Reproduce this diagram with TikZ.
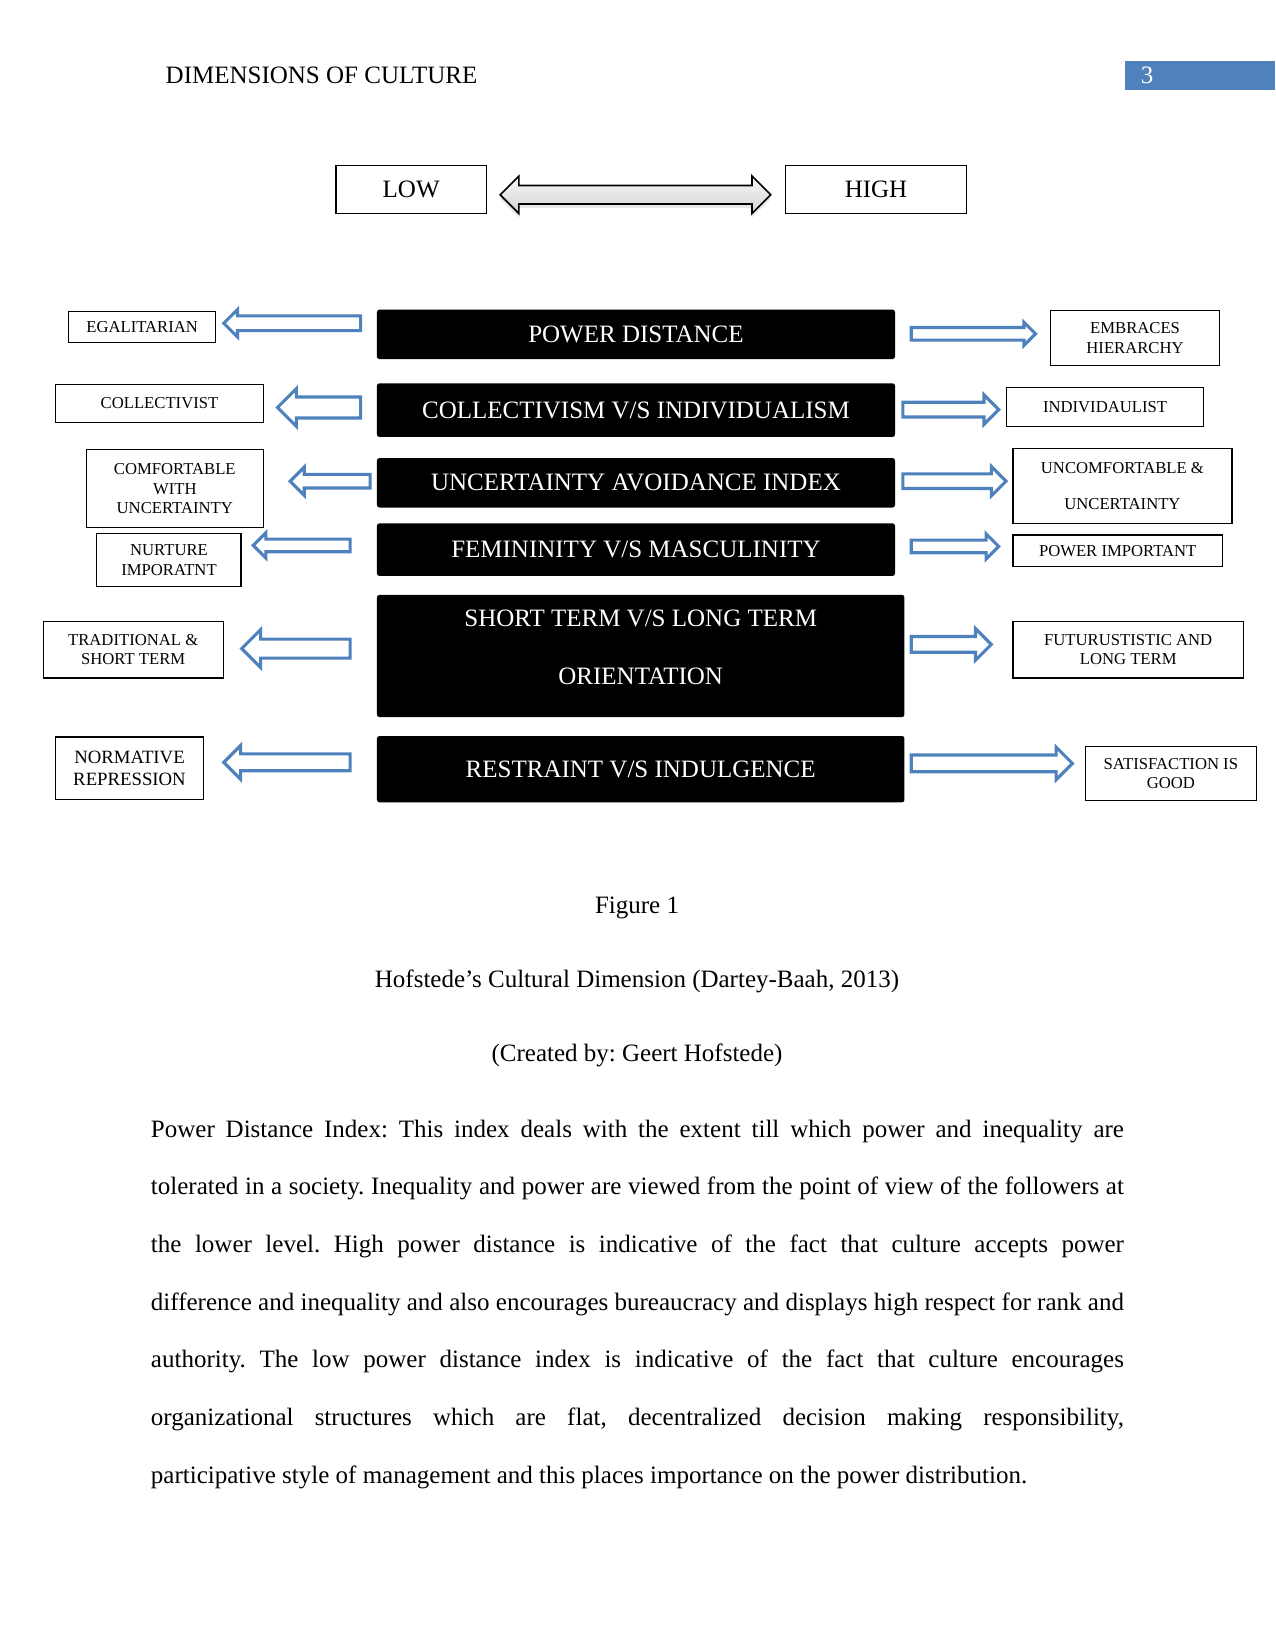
\documentclass[tikz,border=0pt]{standalone}
\usepackage{fontspec}
\setmainfont{Liberation Serif}
\usepackage{xcolor}
\usetikzlibrary{positioning, shapes.arrows, shadows}

\definecolor{hdrblue}{HTML}{4F81BD}
\definecolor{arrblue}{HTML}{4F81BD}
\newcommand{\pxu}{0.5054pt}

\tikzset{
  dimbox/.style={fill=black, text=white, rounded corners=1.2pt, inner sep=0pt,
    font=\fontsize{12}{27.7}\selectfont, align=center},
  sidebox/.style={draw=black, line width=0.6pt, inner sep=0pt,
    font=\fontsize{8}{9.2}\selectfont, align=center},
  sz/.style 2 args={minimum width=#1*\pxu, minimum height=#2*\pxu},
  blockarr/.style 2 args={single arrow, draw=arrblue, line width=1.5pt, fill=white,
    inner xsep=0pt, inner ysep=(#2-3)/2*\pxu, minimum width=0pt,
    single arrow head extend=(#1-#2)/2*\pxu, single arrow head indent=0pt},
}

\begin{document}
\frenchspacing
\begin{tikzpicture}[x=\pxu, y=-\pxu]
  \useasboundingbox (0,0) rectangle (1211,1568);

  % header
  \node[anchor=base west, inner sep=0pt, font=\fontsize{12}{14}\selectfont] (title) at (157,79) {DIMENSIONS OF CULTURE};
  \fill[hdrblue] (1068,58) rectangle (1211,85);
  \node[anchor=base west, inner sep=0pt, text=white, font=\fontsize{12}{14}\selectfont] (pagenum) at (1083,79) {3};

  % low / high
  \node[sidebox, sz={143}{46}, font=\fontsize{12}{14}\selectfont] (low) at (390.5,180) {LOW};
  \node[sidebox, sz={172}{46}, font=\fontsize{12}{14}\selectfont] (high) at (832,180) {HIGH};
  \node[double arrow, draw=black, line width=0.8pt, top color=gray!6, bottom color=gray!35,
    drop shadow={opacity=0.2, shadow xshift=0pt, shadow yshift=-2pt},
    inner xsep=0pt, inner ysep=8*\pxu, minimum height=257*\pxu,
    double arrow head extend=9*\pxu, double arrow head indent=0pt] (range) at (603.5,185) {};

  % dimensions
  \node[dimbox, sz={492}{47}] (pd) at (604,317.5) {POWER DISTANCE};
  \node[dimbox, sz={492}{51}] (cvi) at (604,389.5) {COLLECTIVISM V/S INDIVIDUALISM};
  \node[dimbox, sz={492}{47}] (uai) at (604,458.5) {UNCERTAINTY AVOIDANCE INDEX};
  \node[dimbox, sz={492}{50}] (fvm) at (604,522) {FEMININITY V/S MASCULINITY};
  \node[dimbox, sz={501}{116}] (ltlo) at (608.5,623) {};
  \node[dimbox, fill=none] (ltlotext) at (608.5,614.5) {SHORT TERM V/S LONG TERM\\ORIENTATION};
  \node[dimbox, sz={501}{63}] (rvi) at (608.5,730.5) {RESTRAINT V/S INDULGENCE};

  % low side
  \node[sidebox, sz={140}{29}] (egal) at (135,310.5) {EGALITARIAN};
  \node[sidebox, sz={197}{36}] (coll) at (151.5,383) {COLLECTIVIST};
  \node[sidebox, sz={168}{74}] (comf) at (166,464) {COMFORTABLE\\WITH\\UNCERTAINTY};
  \node[sidebox, sz={137}{50}] (nurt) at (160.5,532) {NURTURE\\IMPORATNT};
  \node[sidebox, sz={171}{54}] (trad) at (126.5,617) {TRADITIONAL \&\\SHORT TERM};
  \node[sidebox, sz={140}{59}, font=\fontsize{9}{10.6}\selectfont] (norm) at (123,729.5) {NORMATIVE\\REPRESSION};

  % high side
  \node[sidebox, sz={160}{52}] (embr) at (1078,321) {EMBRACES\\HIERARCHY};
  \node[sidebox, sz={187}{37}] (indiv) at (1049.5,386.5) {INDIVIDAULIST};
  \node[sidebox, sz={208}{71}] (uncomf) at (1066,461.5) {UNCOMFORTABLE \&\\[8pt]UNCERTAINTY};
  \node[sidebox, sz={199}{30}] (powimp) at (1061.5,523) {POWER IMPORTANT};
  \node[sidebox, sz={219}{54}] (futur) at (1071.5,617) {FUTURUSTISTIC AND\\LONG TERM};
  \node[sidebox, sz={162}{51}] (satis) at (1112,734.5) {SATISFACTION IS\\GOOD};

  % arrows to the low side
  \foreach \n/\x/\y/\l/\h/\s in {pdl/344/307/133/26/14, cvil/344/387/82/36/20, uail/353/457/79/27/13,
      fvml/334/518/95/24/12, ltlol/334/616/106/36/18, rvil/334/724/123/32/16} {
    \node[blockarr={\h}{\s}, minimum height=(\l-3)*\pxu, shape border rotate=180, anchor=tail] (\n) at (\x,\y) {};
  }

  % arrows to the high side
  \foreach \n/\x/\y/\l/\h/\s in {pdr/864/317/121/22/12, cvir/856/389/94/28/14, uair/856/457/101/28/14,
      fvmr/864/519/86/24/12, ltlor/864/612/79/30/15, rvir/864/725/156/31/16} {
    \node[blockarr={\h}{\s}, minimum height=(\l-3)*\pxu, anchor=tail] (\n) at (\x,\y) {};
  }

  % caption
  \node[anchor=base, inner sep=0pt, font=\fontsize{12}{14}\selectfont] (fig) at (605,868) {Figure 1};
  \node[anchor=base, inner sep=0pt, font=\fontsize{12}{14}\selectfont] (cap) at (605,938) {Hofstede’s Cultural Dimension (Dartey-Baah, 2013)};
  \node[anchor=base, inner sep=0pt, font=\fontsize{12}{14}\selectfont] (cred) at (605,1008) {(Created by: Geert Hofstede)};

  % body text
  \node[anchor=north west, inner sep=0pt, text width=467pt, align=justify,
    font=\fontsize{12}{27.7}\selectfont] (para) at (143,1063) {Power Distance Index: This index deals with the extent till which power and inequality are\linebreak
    tolerated in a society. Inequality and power are viewed from the point of view of the followers at\linebreak
    the lower level. High power distance is indicative of the fact that culture accepts power\linebreak
    difference and inequality and also encourages bureaucracy and displays high respect for rank and\linebreak
    authority. The low power distance index is indicative of the fact that culture encourages\linebreak
    organizational structures which are flat, decentralized decision making responsibility,\linebreak
    participative style of management and this places importance on the power distribution.};
\end{tikzpicture}
\end{document}
